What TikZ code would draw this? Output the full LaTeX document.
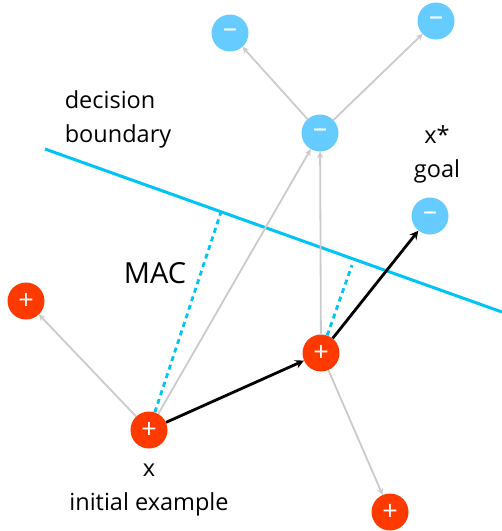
\documentclass[tikz,border=0pt]{standalone}
\usepackage{fontspec}
\setmainfont{Open Sans}
\usetikzlibrary{arrows, positioning}

\definecolor{posred}{HTML}{FF3A00}
\definecolor{negblue}{HTML}{66CCFF}
\definecolor{bndcyan}{HTML}{00C4F4}
\definecolor{movegray}{HTML}{CBCBCB}

\begin{document}
\begin{tikzpicture}[x=1pt, y=-1pt, >=stealth,
        plusex/.style={circle, fill=posred, minimum size=37pt, inner sep=0pt, text=white, font=\fontsize{27}{27}\selectfont},
        minusex/.style={circle, fill=negblue, minimum size=37pt, inner sep=0pt, text=white, font=\fontsize{28}{28}\selectfont},
        txt/.style={align=center, font=\fontsize{23.5}{34}\selectfont},
        move/.style={->, draw=movegray, line width=1.8pt},
        attack/.style={->, draw=black, line width=2.8pt},
        margin/.style={draw=bndcyan, line width=2.8pt, dash pattern=on 5pt off 4pt}]

    \useasboundingbox (0,0) rectangle (502,531);

    % decision boundary
    \coordinate (b1) at (45,149);
    \coordinate (b2) at (502,312);
    \draw [bndcyan, line width=3pt] (b1) -- (b2);

    % examples
    \node (x) [plusex] at (149,430) {+};
    \node (xmid) [plusex] at (321,353) {+};
    \node (xleft) [plusex] at (26,301) {+};
    \node (xdown) [plusex] at (390,512) {+};
    \node (nmid) [minusex] at (320,133) {–};
    \node (nleft) [minusex] at (230,33) {–};
    \node (nright) [minusex] at (436,21) {–};
    \node (goal) [minusex] at (430,216) {–};

    % margins to the boundary
    \coordinate (m1) at (221,212);
    \coordinate (m2) at (352,265);
    \draw [margin] (x) -- (m1);
    \draw [margin] (xmid) -- (m2);

    % explored moves
    \draw [move] (x) -- (xleft);
    \draw [move] (x) -- (nmid);
    \draw [move] (xmid) -- (nmid);
    \draw [move] (xmid) -- (xdown);
    \draw [move] (nmid) -- (nleft);
    \draw [move] (nmid) -- (nright);

    % chosen path
    \draw [attack] (x) -- (xmid);
    \draw [attack] (xmid) -- (goal);

    % labels
    \node (bndlabel) [txt, align=left] at (118,119) {decision\\boundary};
    \node (maclabel) [font=\fontsize{29}{29}\selectfont] at (155,273) {MAC};
    \node (goallabel) [txt] at (437,154) {x*\\goal};
    \node (xlabel) [txt] at (149,490) {x\\initial example};
\end{tikzpicture}
\end{document}
